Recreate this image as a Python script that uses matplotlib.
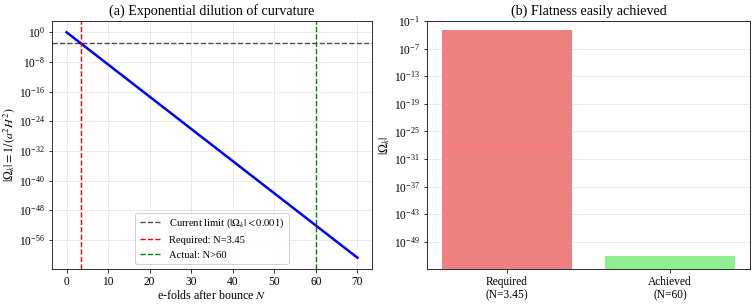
import matplotlib
matplotlib.use("Agg")
import matplotlib.pyplot as plt
import numpy as np

plt.rcParams['font.family'] = ['Liberation Serif', 'DejaVu Serif']
plt.rcParams['mathtext.fontset'] = 'stix'
plt.rcParams['font.size'] = 12

# Panel (a) data: |Omega_k| vs e-folds (straight line on log scale)
efolds = [0, 70]
omega_k = [1.0, 10 ** -60.8]
current_limit = 1e-3
n_required = 3.45
n_actual = 60

# Panel (b) data
bar_labels = ['Required\n(N=3.45)', 'Achieved\n(N=60)']
bar_values = [1e-3, 10 ** -52.1]
bar_colors = ['lightcoral', 'lightgreen']

DPI = 72
fig = plt.figure(figsize=(753 / DPI, 307 / DPI), dpi=DPI)
ax1 = fig.add_axes([52/753, 1 - 269/307, (372-52)/753, (269-21)/307])
ax2 = fig.add_axes([427/753, 1 - 269/307, (750-427)/753, (269-21)/307])

ax1.semilogy(efolds, omega_k, color='blue', linewidth=2.5)
ax1.axhline(current_limit, color='k', linestyle='--', alpha=0.7, linewidth=1.4,
            label=r'Current limit ($|\Omega_k| < 0.001$)')
ax1.axvline(n_required, color='red', linestyle='--', linewidth=1.4,
            label='Required: N=3.45')
ax1.axvline(n_actual, color='green', linestyle='--', linewidth=1.4,
            label='Actual: N>60')
ax1.set_yticks([10.0 ** k for k in range(0, -57, -8)])
ax1.yaxis.set_minor_locator(matplotlib.ticker.NullLocator())
ax1.set_xticks(range(0, 71, 10))
ax1.tick_params(labelsize=11.5)
ax1.set_xlabel(r'e-folds after bounce $N$', fontsize=12, labelpad=1)
ax1.set_ylabel(r'$|\Omega_k| = 1/(a^2H^2)$', fontsize=12, labelpad=2)
ax1.set_title('(a) Exponential dilution of curvature', fontsize=14)
ax1.grid(True, alpha=0.3)
ax1.legend(loc='lower center', fontsize=10.5, framealpha=0.9)

x = np.arange(len(bar_labels))
ax2.bar(x, bar_values, color=bar_colors, width=0.8, log=True)
ax2.set_yscale('log')
ax2.set_ylim(10 ** -54.9, 10 ** -1)
ax2.set_yticks([10.0 ** k for k in range(-1, -50, -6)])
ax2.yaxis.set_minor_locator(matplotlib.ticker.NullLocator())
ax2.set_xticks(x)
ax2.set_xticklabels(bar_labels, linespacing=1.1)
ax2.tick_params(labelsize=11.5)
ax2.set_ylabel(r'$|\Omega_k|$', fontsize=12, labelpad=2)
ax2.set_title('(b) Flatness easily achieved', fontsize=14)
ax2.grid(True, axis='y', alpha=0.3)

fig.savefig('out.png', dpi=DPI)
